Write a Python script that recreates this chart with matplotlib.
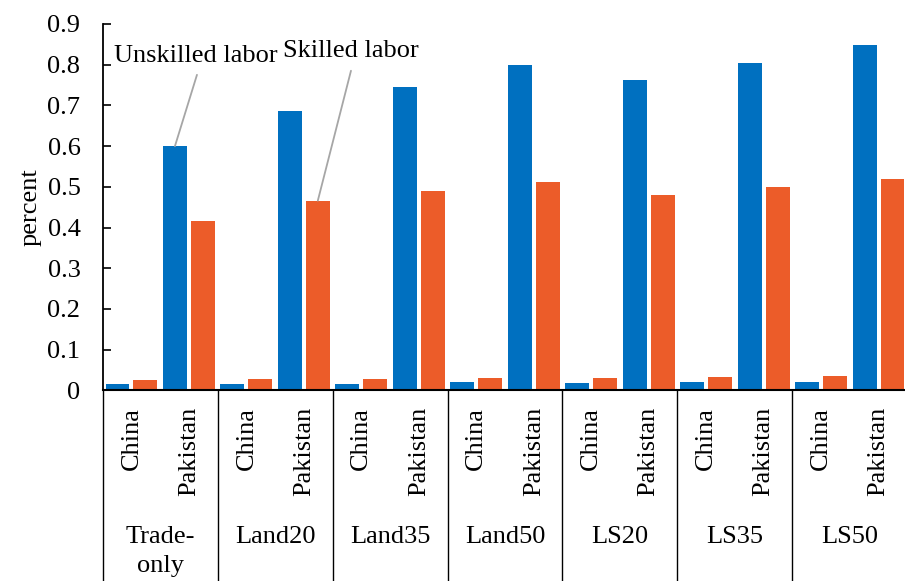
import matplotlib
matplotlib.use("Agg")
import matplotlib.pyplot as plt
import matplotlib.transforms as mtransforms
import numpy as np

plt.rcParams['font.family'] = ['Liberation Serif', 'DejaVu Serif']

# ---- data ----
scenarios = ["Trade-\nonly", "Land20", "Land35", "Land50", "LS20", "LS35", "LS50"]
countries = ["China", "Pakistan"]
# values in order: for each scenario -> China, Pakistan
unskilled = [0.015, 0.600,
             0.016, 0.687,
             0.017, 0.745,
             0.020, 0.800,
             0.018, 0.763,
             0.020, 0.805,
             0.021, 0.848]
skilled = [0.025, 0.415,
           0.027, 0.466,
           0.029, 0.490,
           0.031, 0.512,
           0.030, 0.480,
           0.033, 0.499,
           0.035, 0.519]
yticks = [0, 0.1, 0.2, 0.3, 0.4, 0.5, 0.6, 0.7, 0.8, 0.9]
ytick_labels = ["0", "0.1", "0.2", "0.3", "0.4", "0.5", "0.6", "0.7", "0.8", "0.9"]
series_names = ["Unskilled labor", "Skilled labor"]

BLUE = "#0070C0"
ORANGE = "#EC5C29"
FS = 19

fig = plt.figure(figsize=(9.05, 5.81), dpi=100)
ax = fig.add_axes([0.1135, 0.328, 0.889, 0.6308])

n = len(unskilled)
centers = np.arange(n) + 0.5
off = 0.243
w = 0.417
ax.bar(centers - off, unskilled, width=w, color=BLUE, zorder=2)
ax.bar(centers + off, skilled, width=w, color=ORANGE, zorder=2)

ax.set_xlim(0, n)
ax.set_ylim(0, 0.9)
ax.set_yticks(yticks)
ax.set_yticklabels(ytick_labels, fontsize=FS)
ax.tick_params(axis='y', direction='in', length=6, width=1.2, pad=16)
ax.set_xticks([])
for s in ['top', 'right']:
    ax.spines[s].set_visible(False)
ax.spines['left'].set_linewidth(1.3)
ax.spines['bottom'].set_linewidth(1.5)
ax.set_ylabel("percent", fontsize=FS, labelpad=4)

trans = mtransforms.blended_transform_factory(ax.transData, ax.transAxes)

# country labels
for i in range(n):
    ax.text(centers[i], -0.045, countries[i % 2], rotation=90, ha='center',
            va='top', fontsize=FS, transform=trans)

# group separators
for g in range(len(scenarios) + 1):
    ax.plot([2 * g, 2 * g], [0, -0.6], color='black', lw=1.0,
            transform=trans, clip_on=False)

# group labels
for g, lab in enumerate(scenarios):
    ax.text(2 * g + 1, -0.369, lab, ha='center', va='top', fontsize=FS,
            transform=trans, linespacing=1.45)

# annotations
ax.annotate('', xy=(centers[1] - off, unskilled[1]), xytext=(1.64, 0.775),
            arrowprops=dict(arrowstyle='-', color='#A6A6A6', lw=1.3,
                            shrinkA=0, shrinkB=0))
ax.text(1.62, 0.822, series_names[0], ha='center', va='center', fontsize=FS,
        bbox=dict(facecolor='white', edgecolor='none', pad=0))
ax.annotate('', xy=(centers[3] + off, skilled[3]), xytext=(4.32, 0.785),
            arrowprops=dict(arrowstyle='-', color='#A6A6A6', lw=1.3,
                            shrinkA=0, shrinkB=0))
ax.text(4.31, 0.834, series_names[1], ha='center', va='center', fontsize=FS)

fig.savefig("out.png", dpi=100)
